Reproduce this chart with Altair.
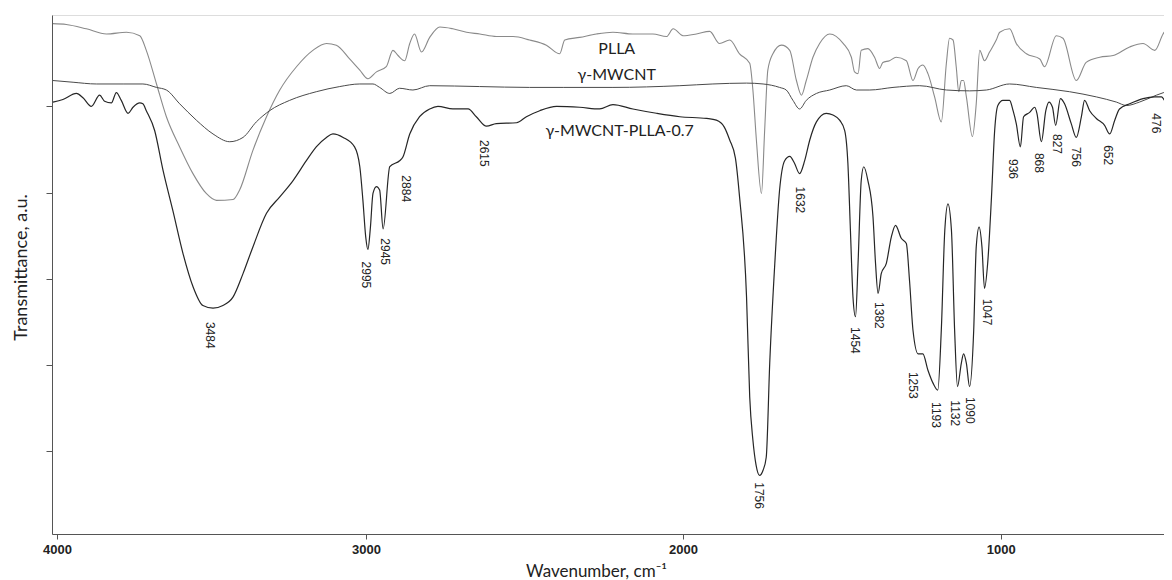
import altair as alt
import pandas as pd

# ---------------- data (wavenumber, transmittance a.u.) ----------------
plla_wn = [4013, 3970, 3905, 3840, 3775, 3732, 3711, 3678, 3646, 3603, 3560, 3517, 3484, 3430, 3409,
           3366, 3322, 3279, 3225, 3172, 3128, 3096, 3053, 3020, 2994, 2967, 2936, 2915, 2899, 2878,
           2862, 2847, 2825, 2799, 2767, 2726, 2683, 2641, 2589, 2536, 2484, 2431, 2389, 2373, 2326,
           2273, 2221, 2158, 2095, 2052, 2031, 2000, 1958, 1916, 1885, 1853, 1822, 1790, 1780, 1769,
           1753, 1743, 1733, 1717, 1690, 1664, 1643, 1627, 1612, 1591, 1570, 1538, 1496, 1470, 1460,
           1449, 1439, 1418, 1397, 1381, 1371, 1350, 1329, 1297, 1276, 1260, 1245, 1229, 1208, 1187,
           1171, 1161, 1150, 1140, 1132, 1124, 1117, 1108, 1089, 1077, 1066, 1051, 1035, 1014, 1003,
           972, 951, 919, 877, 862, 825, 804, 762, 731, 688, 646, 594, 552, 515, 489, 463]
plla_t = [5.96, 5.95, 5.90, 5.84, 5.86, 5.82, 5.65, 5.26, 4.88, 4.53, 4.22, 3.99, 3.91, 3.92, 4.03,
          4.49, 4.88, 5.19, 5.46, 5.65, 5.73, 5.71, 5.55, 5.42, 5.32, 5.40, 5.46, 5.65, 5.59, 5.53,
          5.73, 5.84, 5.63, 5.80, 5.92, 5.90, 5.86, 5.84, 5.81, 5.81, 5.77, 5.71, 5.61, 5.77, 5.80,
          5.84, 5.86, 5.84, 5.84, 5.81, 5.90, 5.82, 5.84, 5.87, 5.73, 5.77, 5.61, 5.50, 5.19, 4.61,
          3.99, 4.72, 5.42, 5.61, 5.71, 5.65, 5.30, 5.13, 5.30, 5.57, 5.73, 5.84, 5.73, 5.57, 5.40,
          5.38, 5.65, 5.67, 5.57, 5.44, 5.51, 5.53, 5.57, 5.53, 5.30, 5.44, 5.48, 5.38, 5.11, 4.82,
          5.50, 5.79, 5.77, 5.46, 5.17, 5.30, 5.30, 5.11, 4.65, 5.03, 5.65, 5.53, 5.63, 5.77, 5.86,
          5.90, 5.73, 5.61, 5.55, 5.46, 5.82, 5.79, 5.30, 5.51, 5.57, 5.59, 5.69, 5.73, 5.65, 5.84, 5.96]

cnt_wn = [4013, 3948, 3873, 3786, 3722, 3678, 3646, 3603, 3549, 3495, 3441, 3398, 3355, 3312, 3247,
          3161, 3085, 3020, 2978, 2957, 2925, 2894, 2852, 2799, 2642, 2484, 2378, 2221, 2010, 1906,
          1800, 1748, 1696, 1675, 1654, 1633, 1612, 1580, 1538, 1486, 1454, 1412, 1339, 1255, 1171,
          1098, 1045, 972, 888, 783, 699, 636, 604, 563, 510, 463]
cnt_t = [5.30, 5.28, 5.26, 5.26, 5.26, 5.22, 5.19, 5.03, 4.84, 4.68, 4.59, 4.64, 4.82, 4.95, 5.07,
         5.17, 5.23, 5.26, 5.26, 5.22, 5.15, 5.21, 5.19, 5.24, 5.23, 5.22, 5.22, 5.22, 5.24, 5.26,
         5.27, 5.26, 5.22, 5.19, 5.07, 4.97, 5.07, 5.15, 5.19, 5.24, 5.19, 5.19, 5.22, 5.24, 5.19,
         5.18, 5.19, 5.26, 5.22, 5.17, 5.11, 5.05, 5.01, 5.05, 5.13, 5.19]

comp_wn = [4013, 3981, 3937, 3916, 3889, 3862, 3846, 3824, 3808, 3792, 3770, 3754, 3732, 3722, 3711,
           3684, 3657, 3625, 3592, 3560, 3528, 3495, 3463, 3430, 3398, 3366, 3322, 3279, 3236, 3193,
           3161, 3128, 3107, 3074, 3037, 3020, 3010, 3001, 2994, 2986, 2978, 2967, 2957, 2946, 2925,
           2894, 2884, 2862, 2831, 2799, 2773, 2726, 2678, 2652, 2620, 2589, 2525, 2494, 2452, 2399,
           2326, 2263, 2221, 2158, 2084, 2010, 1926, 1895, 1870, 1853, 1835, 1822, 1800, 1790, 1780,
           1770, 1759, 1748, 1738, 1727, 1711, 1696, 1680, 1664, 1649, 1633, 1617, 1601, 1580, 1549,
           1528, 1507, 1491, 1481, 1473, 1465, 1457, 1449, 1439, 1431, 1418, 1402, 1394, 1386, 1376,
           1360, 1344, 1331, 1313, 1297, 1287, 1276, 1260, 1245, 1229, 1213, 1198, 1187, 1176, 1166,
           1155, 1145, 1136, 1124, 1117, 1108, 1098, 1085, 1077, 1068, 1059, 1051, 1041, 1029, 1019,
           1009, 993, 972, 961, 951, 938, 928, 909, 893, 886, 872, 858, 848, 837, 827,
           812, 799, 778, 762, 746, 736, 720, 699, 673, 657, 641, 626, 594, 552, 515,
           494, 479, 469, 463]
comp_t = [5.05, 5.08, 5.15, 5.10, 5.00, 5.13, 5.06, 5.04, 5.16, 5.07, 4.92, 4.99, 5.04, 5.03, 4.95,
          4.72, 4.26, 3.79, 3.29, 2.91, 2.69, 2.66, 2.69, 2.79, 3.06, 3.37, 3.76, 3.95, 4.14, 4.37,
          4.53, 4.64, 4.68, 4.64, 4.53, 4.30, 3.91, 3.49, 3.34, 3.60, 3.99, 4.07, 4.03, 3.58, 4.30,
          4.37, 4.41, 4.68, 4.88, 4.97, 5.00, 4.97, 4.97, 4.88, 4.77, 4.80, 4.81, 4.88, 4.95, 5.00,
          4.99, 4.97, 5.02, 4.97, 4.92, 4.88, 4.86, 4.84, 4.76, 4.61, 4.40, 3.95, 2.79, 1.63, 1.13,
          0.84, 0.72, 0.78, 0.93, 2.02, 3.18, 4.03, 4.37, 4.42, 4.34, 4.22, 4.37, 4.61, 4.82, 4.92,
          4.90, 4.84, 4.72, 4.34, 3.56, 2.79, 2.56, 3.18, 4.14, 4.30, 4.14, 3.72, 3.18, 2.83, 3.06,
          3.18, 3.49, 3.62, 3.47, 3.41, 2.98, 2.40, 2.13, 2.13, 1.94, 1.79, 1.71, 2.40, 3.56, 3.87,
          3.56, 2.40, 1.75, 2.02, 2.13, 2.02, 1.75, 2.40, 3.37, 3.60, 3.37, 2.89, 3.18, 3.95, 4.72,
          5.01, 5.07, 5.07, 4.95, 4.80, 4.53, 4.88, 4.93, 4.99, 4.92, 4.59, 4.95, 5.05, 4.99, 4.78,
          5.09, 5.03, 4.80, 4.64, 4.88, 5.07, 4.95, 4.86, 4.78, 4.68, 4.84, 4.97, 5.03, 5.09, 5.11,
          5.11, 5.05, 5.11, 5.17]

peak_text = ["3484", "2995", "2945", "2884", "2615", "1756", "1632", "1454", "1382", "1253",
             "1193", "1132", "1090", "1047", "936", "868", "827", "756", "652", "476"]
peak_wn = [3506, 2999, 2941, 2873, 2629, 1762, 1633, 1460, 1383, 1276,
           1205, 1143, 1098, 1042, 961, 880, 823, 764, 662, 510]
peak_t = [2.50, 3.20, 3.47, 4.20, 4.61, 0.64, 4.07, 2.44, 2.73, 1.92,
          1.57, 1.59, 1.63, 2.77, 4.39, 4.46, 4.68, 4.53, 4.55, 4.92]

series_names = ["PLLA", "γ-MWCNT", "γ-MWCNT-PLLA-0.7"]
series_wn = [2209, 2209, 2200]
series_t = [5.67, 5.36, 4.72]

# ---------------- chart ----------------
x_scale = alt.Scale(domain=[4016, 4000, 3000, 2000, 1000, 486],
                    range=[0, 5, 314, 631, 948.7, 1112], nice=False, zero=False)
y_scale = alt.Scale(domain=[0.04, 6.06], nice=False, zero=False)

x_axis = alt.Axis(values=[4000, 3000, 2000, 1000], format="d", grid=False,
                  title="Wavenumber, cm⁻¹", titleFont="Lato", titleFontSize=17,
                  titleFontWeight="normal", titleColor="#222", titlePadding=7,
                  titleX=544, titleAlign="center",
                  labelFont="Liberation Sans", labelFontWeight="bold", labelFontSize=13,
                  labelColor="#222", labelPadding=4, tickSize=5,
                  domainColor="#555", tickColor="#555")
y_axis = alt.Axis(values=[1, 2, 3, 4, 5], labels=False, grid=False, tickSize=6,
                  title="Transmittance, a.u.", titleFont="Lato", titleFontSize=18,
                  titleFontWeight="normal", titleColor="#222", titlePadding=15,
                  titleY=252,
                  domainColor="#555", tickColor="#555")


def line_layer(wn, t, color, width):
    df = pd.DataFrame({"wn": wn, "t": t})
    return alt.Chart(df).mark_line(color=color, strokeWidth=width, clip=True,
                                   interpolate="monotone").encode(
        x=alt.X("wn:Q", scale=x_scale, axis=x_axis),
        y=alt.Y("t:Q", scale=y_scale, axis=y_axis),
    )


plla = line_layer(plla_wn, plla_t, "#8a8a8a", 1.1)
cnt = line_layer(cnt_wn, cnt_t, "#4a4a4a", 1.0)
comp = line_layer(comp_wn, comp_t, "#262626", 1.2)

peaks_df = pd.DataFrame({"wn": peak_wn, "t": peak_t, "label": peak_text})
peaks = alt.Chart(peaks_df).mark_text(
    angle=90, align="left", baseline="middle", font="Liberation Sans",
    fontSize=12, color="#222"
).encode(
    x=alt.X("wn:Q", scale=x_scale, axis=x_axis),
    y=alt.Y("t:Q", scale=y_scale, axis=y_axis),
    text="label:N",
)

names_df = pd.DataFrame({"wn": series_wn, "t": series_t, "label": series_names})
names = alt.Chart(names_df).mark_text(
    align="center", baseline="middle", font="Lato", fontSize=16, color="#222"
).encode(
    x=alt.X("wn:Q", scale=x_scale, axis=x_axis),
    y=alt.Y("t:Q", scale=y_scale, axis=y_axis),
    text="label:N",
)

chart = alt.layer(plla, cnt, comp, peaks, names).properties(
    width=1112, height=519,
    padding={"left": 44, "top": 7, "right": 0, "bottom": 50},
    autosize=alt.AutoSizeParams(type="none"),
).configure_view(stroke=None).configure(background="white")

chart.save("out.html", embed_options={"renderer": "svg", "actions": False})
